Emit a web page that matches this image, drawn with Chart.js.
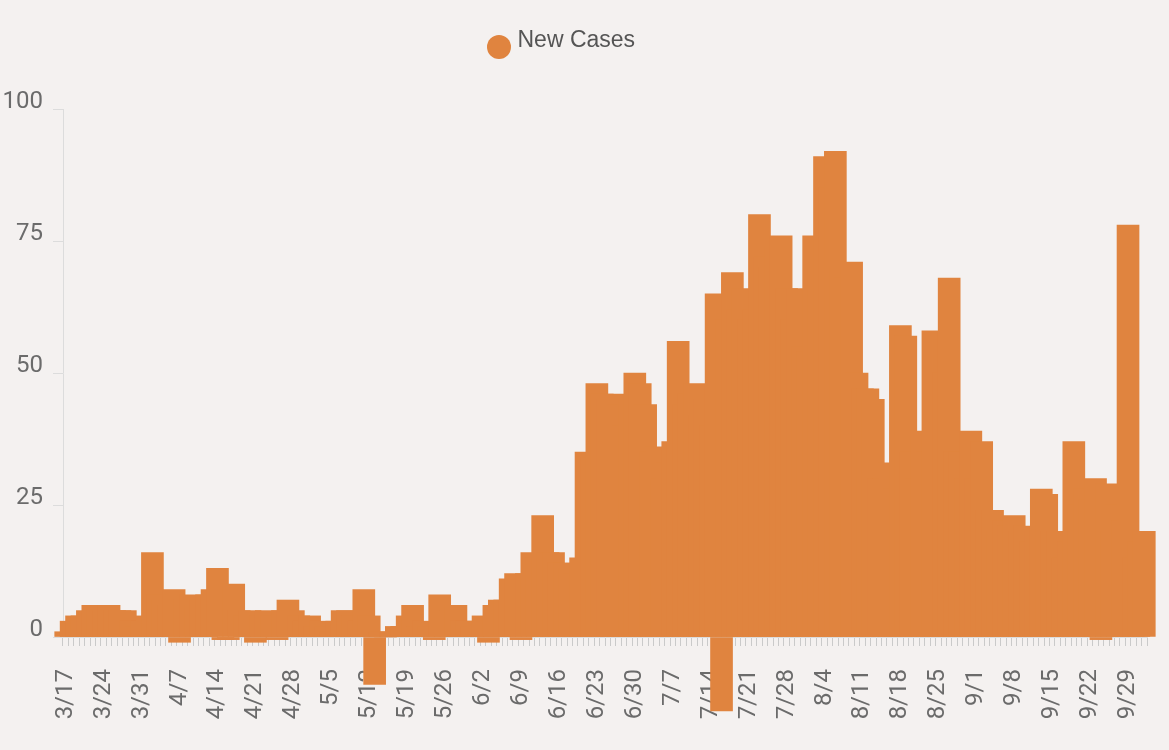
<!DOCTYPE html>
<html>
<head>
<meta charset="utf-8">
<title>New Cases</title>
<script src="https://cdn.jsdelivr.net/npm/chart.js@4.4.1/dist/chart.umd.min.js"></script>
<style>
  html, body { margin: 0; padding: 0; background: #f4f1f0; }
  #cases-chart { display: block; background: #f4f1f0; }
</style>
</head>
<body>
<canvas id="cases-chart" width="1169" height="750"></canvas>
<script>
// Daily new cases, one value per day starting 3/17
const startMonth = 3;
const startDay = 17;
const newCases = [
  1, 3, 4, 4, 5, 6, 6,            // 3/17
  5, 6, 5, 5, 5, 3, 2,            // 3/24
  3, 4, 16, 8, 7, 6, 9,           // 3/31
  -1, 7, 8, 6, 7, 8, 9,           // 4/7
  13, -0.5, -0.5, 10, 5, 4, 5,    // 4/14
  -1, 4, 5, 4, -0.5, 5, 7,        // 4/21
  5, 4, 3, 4, 2, 3, 2,            // 4/28
  1, 3, 5, 5, 4, 3, 9,            // 5/5
  4, -9, 1, 0, 1, 2, 2,           // 5/12
  4, 6, 2, 3, 2, -0.5, 8,         // 5/19
  6, 5, 6, 3, 3, 2, 3,            // 5/26
  4, -1, 6, 7, 7, 11, 12,         // 6/2
  -0.5, 12, 16, 15, 23, 16, 16,   // 6/9
  14, 14, 13, 12, 15, 35, 34,     // 6/16
  48, 46, 45, 46, 44, 40, 45,     // 6/23
  50, 48, 44, 35, 36, 30, 33,     // 6/30
  37, 56, 44, 46, 48, 42, 45,     // 7/7
  40, 65, -14, 60, 69, 62, 66,    // 7/14
  60, 62, 80, 72, 70, 74, 76,     // 7/21
  66, 60, 66, 55, 54, 76, 70,     // 7/28
  91, 85, 92, 70, 68, 71, 50,     // 8/4
  47, 47, 45, 30, 30, 33, 28,     // 8/11
  59, 57, 35, 30, 39, 35, 58,     // 8/18
  45, 50, 68, 35, 35, 30, 39,     // 8/25
  30, 37, 24, 24, 20, 22, 21,     // 9/1
  23, 20, 21, 18, 20, 28, 27,     // 9/8
  20, 20, 15, 18, 37, 25, 28,     // 9/15
  26, 30, -0.5, 29, 20, 25, 22,   // 9/22
  78, 15, 18, 20                  // 9/29
];
const yTicks = [0, 25, 50, 75, 100];
const labelEvery = 7;

// day labels "M/D"
const dayLabels = newCases.map((v, i) => {
  const d = new Date(2020, startMonth - 1, startDay + i);
  return (d.getMonth() + 1) + '/' + d.getDate();
});

const barColor = '#e0843f';
const tickFont = { family: 'Roboto, sans-serif', size: 24 };

// legend drawn by hand: dot sits a bit lower than the text
const legendDot = {
  id: 'legendDot',
  afterDraw(chart) {
    const ctx = chart.ctx;
    const ds = chart.data.datasets[0];
    ctx.save();
    ctx.fillStyle = ds.backgroundColor;
    ctx.beginPath();
    ctx.arc(499, 47, 12, 0, Math.PI * 2);
    ctx.fill();
    ctx.font = '23px "Liberation Sans", Arial, sans-serif';
    ctx.fillStyle = '#555555';
    ctx.textAlign = 'left';
    ctx.textBaseline = 'alphabetic';
    ctx.fillText(ds.label, 517.5, 47);
    ctx.restore();
  }
};

new Chart(document.getElementById('cases-chart'), {
  type: 'bar',
  data: {
    labels: dayLabels,
    datasets: [{
      label: 'New Cases',
      data: newCases,
      backgroundColor: barColor,
      borderWidth: 0,
      barThickness: 22,
      clip: false
    }]
  },
  options: {
    responsive: false,
    animation: false,
    layout: { padding: { top: 109, right: 22, bottom: 0, left: 0 } },
    plugins: {
      legend: { display: false },
      tooltip: { enabled: false }
    },
    scales: {
      x: {
        offset: true,
        grid: { offset: true, drawOnChartArea: false, tickLength: 9, color: '#cacaca' },
        border: { color: '#dcdcdc' },
        ticks: {
          autoSkip: false,
          minRotation: 90,
          maxRotation: 90,
          padding: 23,
          color: '#6b6b6b',
          font: tickFont,
          callback: (val, i) => (i % labelEvery === 0 ? dayLabels[i] : '')
        },
        afterFit: (scale) => {
          scale.height = 113;
          scale.paddingLeft = 0;
          scale.paddingRight = 0;
        }
      },
      y: {
        min: yTicks[0],
        max: yTicks[yTicks.length - 1],
        afterBuildTicks: (scale) => { scale.ticks = yTicks.map(v => ({ value: v })); },
        grid: { drawOnChartArea: false, tickLength: 10, color: '#dcdcdc' },
        border: { color: '#dcdcdc' },
        ticks: { padding: 10, labelOffset: -7, color: '#6b6b6b', font: tickFont },
        afterFit: (scale) => { scale.width = 63; }
      }
    }
  },
  plugins: [legendDot]
});
</script>
</body>
</html>
